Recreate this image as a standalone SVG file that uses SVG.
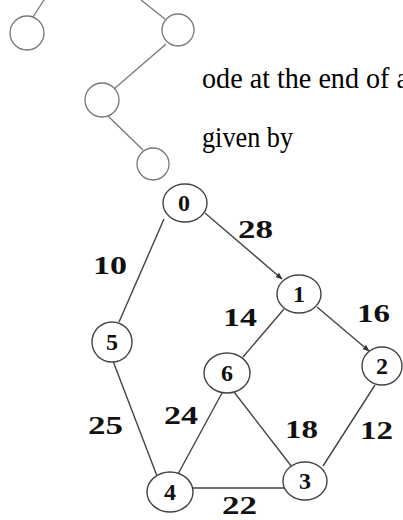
<svg xmlns="http://www.w3.org/2000/svg" width="403" height="520" viewBox="0 0 403 520">
<style>
.tn{fill:none;stroke:#777;stroke-width:1.3}
.tl{stroke:#777;stroke-width:1.3;fill:none}
.nd{fill:#fff;stroke:#444;stroke-width:1.4}
.ed{stroke:#444;stroke-width:1.4;fill:none}
.nl{font-family:"Liberation Serif","Times New Roman",serif;font-weight:bold;font-size:24px;fill:#111;text-anchor:middle}
.el{font-family:"Liberation Serif","Times New Roman",serif;font-weight:bold;font-size:26px;fill:#111}
.tx{font-family:"Liberation Serif","Times New Roman",serif;font-size:30px;fill:#000}
</style>
<defs>
<marker id="ah" viewBox="0 0 10 10" refX="9" refY="5" markerWidth="7" markerHeight="7" orient="auto" markerUnits="userSpaceOnUse">
<path d="M0,1 L10,5 L0,9 z" fill="#333"/>
</marker>
</defs>
<rect width="403" height="520" fill="#fff"/>
<g id="tree">
<line class="tl" x1="44" y1="0" x2="33" y2="17"/>
<line class="tl" x1="141" y1="0" x2="165" y2="19"/>
<line class="tl" x1="166" y1="44" x2="114" y2="89"/>
<line class="tl" x1="108" y1="116" x2="143" y2="150"/>
<circle class="tn" cx="27" cy="33" r="17"/>
<circle class="tn" cx="178" cy="30" r="16"/>
<circle class="tn" cx="102" cy="100" r="17"/>
<circle class="tn" cx="153" cy="164" r="16"/>
</g>
<g id="text">
<text class="tx" x="202" y="88" textLength="207" lengthAdjust="spacingAndGlyphs">ode at the end of a</text>
<text class="tx" x="202" y="147" textLength="91" lengthAdjust="spacingAndGlyphs">given by</text>
</g>
<g id="connectors">
<line class="ed" x1="164" y1="219" x2="119" y2="322"/>
<line class="ed" x1="205" y1="213" x2="282" y2="279" marker-end="url(#ah)"/>
<line class="ed" x1="284" y1="309" x2="243" y2="357"/>
<line class="ed" x1="317" y1="307" x2="369" y2="351" marker-end="url(#ah)"/>
<line class="ed" x1="375" y1="385" x2="323" y2="466"/>
<line class="ed" x1="234" y1="392" x2="292" y2="467"/>
<line class="ed" x1="222" y1="393" x2="178" y2="474"/>
<line class="ed" x1="113" y1="361" x2="157" y2="476"/>
<line class="ed" x1="193" y1="488" x2="284" y2="488"/>
</g>
<g id="n0"><ellipse class="nd" cx="185" cy="203" rx="22" ry="19"/><text class="nl" x="184" y="211">0</text></g>
<g id="n1"><ellipse class="nd" cx="299" cy="294" rx="22" ry="19"/><text class="nl" x="299" y="302">1</text></g>
<g id="n2"><ellipse class="nd" cx="382" cy="366" rx="20" ry="19"/><text class="nl" x="382" y="374">2</text></g>
<g id="n3"><ellipse class="nd" cx="305" cy="481" rx="22" ry="19"/><text class="nl" x="305" y="489">3</text></g>
<g id="n4"><ellipse class="nd" cx="170" cy="492" rx="23" ry="20"/><text class="nl" x="170" y="500">4</text></g>
<g id="n5"><ellipse class="nd" cx="112" cy="342" rx="20" ry="20"/><text class="nl" x="112" y="350">5</text></g>
<g id="n6"><ellipse class="nd" cx="227" cy="373" rx="23" ry="20"/><text class="nl" x="227" y="381">6</text></g>
<g id="labels">
<text class="el" x="238" y="238" textLength="35" lengthAdjust="spacingAndGlyphs">28</text>
<text class="el" x="93" y="274" textLength="34" lengthAdjust="spacingAndGlyphs">10</text>
<text class="el" x="223" y="326" textLength="34" lengthAdjust="spacingAndGlyphs">14</text>
<text class="el" x="357" y="322" textLength="33" lengthAdjust="spacingAndGlyphs">16</text>
<text class="el" x="164" y="424" textLength="34" lengthAdjust="spacingAndGlyphs">24</text>
<text class="el" x="88" y="434" textLength="35" lengthAdjust="spacingAndGlyphs">25</text>
<text class="el" x="285" y="438" textLength="33" lengthAdjust="spacingAndGlyphs">18</text>
<text class="el" x="360" y="439" textLength="33" lengthAdjust="spacingAndGlyphs">12</text>
<text class="el" x="222" y="514" textLength="35" lengthAdjust="spacingAndGlyphs">22</text>
</g>
</svg>
